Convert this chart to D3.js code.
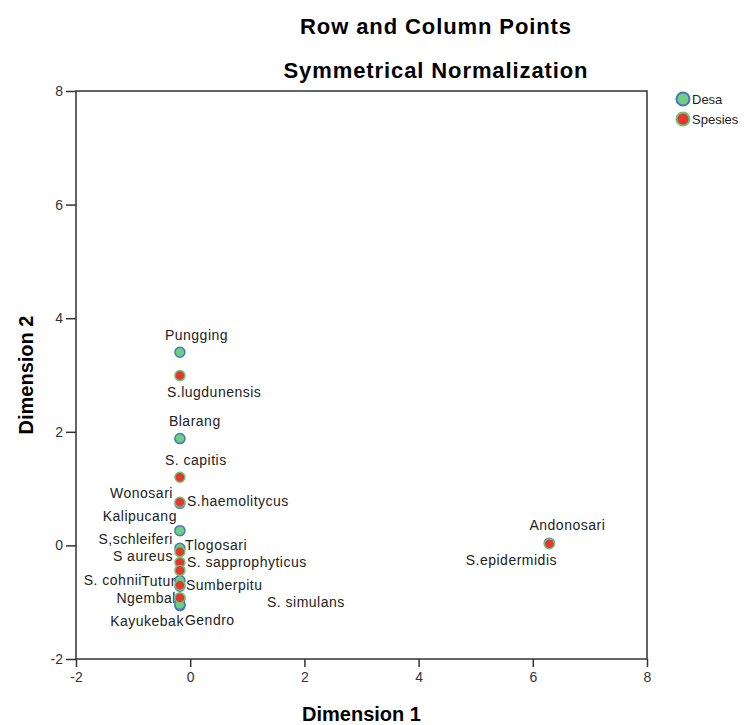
<!DOCTYPE html>
<html>
<head>
<meta charset="utf-8">
<script src="https://cdn.jsdelivr.net/npm/d3@7"></script>
<style>
    body { margin: 0; background: #fff; }
    svg text { font-family: "Liberation Sans", Arial, sans-serif; }
</style>
</head>
<body>
<div id="chart"></div>
<script>
// Row points (Desa)
const desaNames = ["Pungging", "Blarang", "Wonosari", "Kalipucang", "Tlogosari", "Tutur",
    "Sumberpitu", "Ngembal", "Kayukebak", "Gendro", "Andonosari"];
const desaDim1 = [-0.18, -0.18, -0.18, -0.18, -0.18, -0.18, -0.18, -0.18, -0.18, -0.18, 6.29];
const desaDim2 = [3.40, 1.88, 0.74, 0.26, -0.05, -0.62, -0.72, -0.94, -1.06, -1.04, 0.04];

// Column points (Spesies)
const spesiesNames = ["S.lugdunensis", "S. capitis", "S.haemolitycus", "S,schleiferi", "S aureus",
    "S. sapprophyticus", "S. cohnii", "S. simulans", "S.epidermidis"];
const spesiesDim1 = [-0.18, -0.18, -0.18, -0.18, -0.18, -0.18, -0.18, -0.18, 6.29];
const spesiesDim2 = [2.99, 1.20, 0.76, -0.11, -0.30, -0.44, -0.70, -0.92, 0.03];

const axisTicks = [-2, 0, 2, 4, 6, 8];

// label placement (px offset from the marker, anchor)
const LABEL_POS = {
    "Pungging": [-15, -17, "start"],
    "Blarang": [-11, -18, "start"],
    "Wonosari": [-7, -10, "end"],
    "Kalipucang": [-3, -15, "end"],
    "Tlogosari": [5, -3, "start"],
    "Tutur": [-4, 0, "end"],
    "Sumberpitu": [6, -1, "start"],
    "Ngembal": [-4, -1, "end"],
    "Kayukebak": [4, 15, "end"],
    "Gendro": [5, 16, "start"],
    "Andonosari": [18, -18, "middle"],
    "S.lugdunensis": [-13, 17, "start"],
    "S. capitis": [-15, -17, "start"],
    "S.haemolitycus": [7, -1, "start"],
    "S,schleiferi": [-7, -13, "end"],
    "S aureus": [-7, -6, "end"],
    "S. sapprophyticus": [7, -8, "start"],
    "S. cohnii": [-38, -5, "end"],
    "S. simulans": [87, 4, "start"],
    "S.epidermidis": [-38, 16, "middle"]
};

const COLORS = {
    desaFill: "#6dd07e",
    desaStroke: "#4a74c4",
    spesiesFill: "#e8352f",
    spesiesStroke: "#66c872",
    axis: "#333",
    text: "#222"
};

const W = 755, H = 725;
const plot = { left: 76, right: 647, top: 91, bottom: 659 };

const svg = d3.select("#chart").append("svg")
    .attr("width", W)
    .attr("height", H);

const x = d3.scaleLinear().domain([-2, 8]).range([plot.left, plot.right]);
const y = d3.scaleLinear().domain([-2, 8]).range([plot.bottom, plot.top]);

// Titles
svg.append("text")
    .attr("x", 436).attr("y", 34)
    .attr("text-anchor", "middle")
    .style("font-size", "22px").style("font-weight", "bold")
    .style("letter-spacing", "0.9px")
    .text("Row and Column Points");
svg.append("text")
    .attr("x", 436).attr("y", 78)
    .attr("text-anchor", "middle")
    .style("font-size", "22px").style("font-weight", "bold")
    .style("letter-spacing", "0.9px")
    .text("Symmetrical Normalization");

// Axes
const gx = svg.append("g")
    .attr("transform", `translate(0,${plot.bottom})`)
    .call(d3.axisBottom(x).tickValues(axisTicks).tickSize(8).tickPadding(5).tickFormat(d => String(d)));
const gy = svg.append("g")
    .attr("transform", `translate(${plot.left},0)`)
    .call(d3.axisLeft(y).tickValues(axisTicks).tickSize(10).tickPadding(3).tickFormat(d => String(d)));

[gx, gy].forEach(g => {
    g.select(".domain").remove();
    g.selectAll(".tick line").attr("stroke", COLORS.axis).attr("stroke-width", 1.5);
    g.selectAll(".tick text")
        .attr("fill", "#333")
        .style("font-size", "14px")
        .style("font-family", "'Liberation Sans', Arial, sans-serif");
});

// frame
svg.append("rect")
    .attr("x", plot.left).attr("y", plot.top)
    .attr("width", plot.right - plot.left)
    .attr("height", plot.bottom - plot.top)
    .attr("fill", "none")
    .attr("stroke", COLORS.axis)
    .attr("stroke-width", 1.5);

// axis titles
svg.append("text")
    .attr("x", (plot.left + plot.right) / 2).attr("y", 721)
    .attr("text-anchor", "middle")
    .style("font-size", "20px").style("font-weight", "bold")
    .text("Dimension 1");
svg.append("text")
    .attr("transform", `translate(33,${(plot.top + plot.bottom) / 2}) rotate(-90)`)
    .attr("text-anchor", "middle")
    .style("font-size", "20px").style("font-weight", "bold")
    .text("Dimension 2");

const desa = desaNames.map((n, i) => ({ name: n, d1: desaDim1[i], d2: desaDim2[i] }));
const spesies = spesiesNames.map((n, i) => ({ name: n, d1: spesiesDim1[i], d2: spesiesDim2[i] }));

// labels
const allPts = [...desa, ...spesies];
svg.append("g").selectAll("text")
    .data(allPts)
    .join("text")
    .attr("x", d => x(d.d1) + LABEL_POS[d.name][0])
    .attr("y", d => y(d.d2) + LABEL_POS[d.name][1])
    .attr("dy", "0.35em")
    .attr("text-anchor", d => LABEL_POS[d.name][2])
    .attr("fill", COLORS.text)
    .style("font-size", "14px")
    .style("letter-spacing", "0.5px")
    .text(d => d.name);

// markers
svg.append("g").selectAll("circle")
    .data(desa)
    .join("circle")
    .attr("cx", d => x(d.d1))
    .attr("cy", d => y(d.d2))
    .attr("r", 5)
    .attr("fill", COLORS.desaFill)
    .attr("stroke", COLORS.desaStroke)
    .attr("stroke-width", 1.5);

svg.append("g").selectAll("circle")
    .data(spesies)
    .join("circle")
    .attr("cx", d => x(d.d1))
    .attr("cy", d => y(d.d2))
    .attr("r", 5)
    .attr("fill", COLORS.spesiesFill)
    .attr("stroke", COLORS.spesiesStroke)
    .attr("stroke-width", 1.5);

// legend
const legend = [
    { label: "Desa", fill: COLORS.desaFill, stroke: COLORS.desaStroke },
    { label: "Spesies", fill: COLORS.spesiesFill, stroke: COLORS.spesiesStroke }
];
const lg = svg.append("g").selectAll("g")
    .data(legend)
    .join("g")
    .attr("transform", (d, i) => `translate(683,${99 + i * 20})`);
lg.append("circle")
    .attr("r", 6.5)
    .attr("fill", d => d.fill)
    .attr("stroke", d => d.stroke)
    .attr("stroke-width", 2);
lg.append("text")
    .attr("x", 9).attr("dy", "0.35em")
    .attr("fill", COLORS.text)
    .style("font-size", "13px")
    .text(d => d.label);
</script>
</body>
</html>
